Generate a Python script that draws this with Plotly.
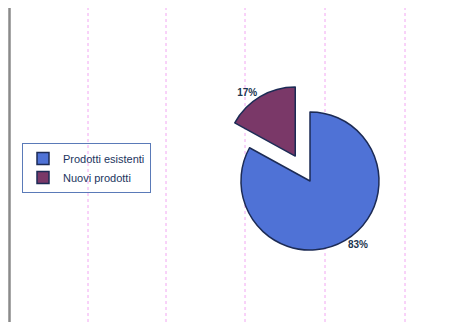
import plotly.graph_objects as go

# Share of sales by product type
labels = ["Prodotti esistenti", "Nuovi prodotti"]
values = [83, 17]
colors = ["#4f72d6", "#7a3868"]
pulls = [0, 0.42]

W, H = 453, 322

fig = go.Figure(
    go.Pie(
        labels=labels,
        values=values,
        pull=pulls,
        sort=False,
        direction="clockwise",
        rotation=0,
        marker=dict(colors=colors, line=dict(color="#1c2b55", width=1.5)),
        texttemplate="%{percent:.0%}",
        textposition="outside",
        outsidetextfont=dict(family="Arial, Liberation Sans", size=10,
                             color="#1c3550", weight="bold"),
        domain=dict(x=[212 / W, 408 / W], y=[1 - 279 / H, 1 - 83 / H]),
        hoverinfo="skip",
        showlegend=True,
    )
)

shapes = [
    # left frame line
    dict(type="line", xref="paper", yref="paper",
         x0=9.5 / W, x1=9.5 / W, y0=0, y1=1 - 8 / H,
         line=dict(color="#8a8a8a", width=2.5)),
]
# faint vertical gridlines
for gx in [88, 166, 245, 325, 405]:
    shapes.append(dict(type="line", xref="paper", yref="paper",
                       x0=gx / W, x1=gx / W, y0=0, y1=1 - 8 / H,
                       line=dict(color="#f2a6f2", width=1, dash="dot"),
                       layer="below"))

fig.update_layout(
    width=W,
    height=H,
    margin=dict(l=0, r=0, t=0, b=0),
    paper_bgcolor="white",
    plot_bgcolor="white",
    shapes=shapes,
    legend=dict(
        x=22 / W, y=1 - 143 / H, xanchor="left", yanchor="top",
        bordercolor="#5a7ab8", borderwidth=1,
        bgcolor="rgba(255,255,255,0)",
        font=dict(family="Arial, Liberation Sans", size=11, color="#1c3560"),
        itemwidth=30, tracegroupgap=0,
    ),
)

fig.write_html("out.html")
